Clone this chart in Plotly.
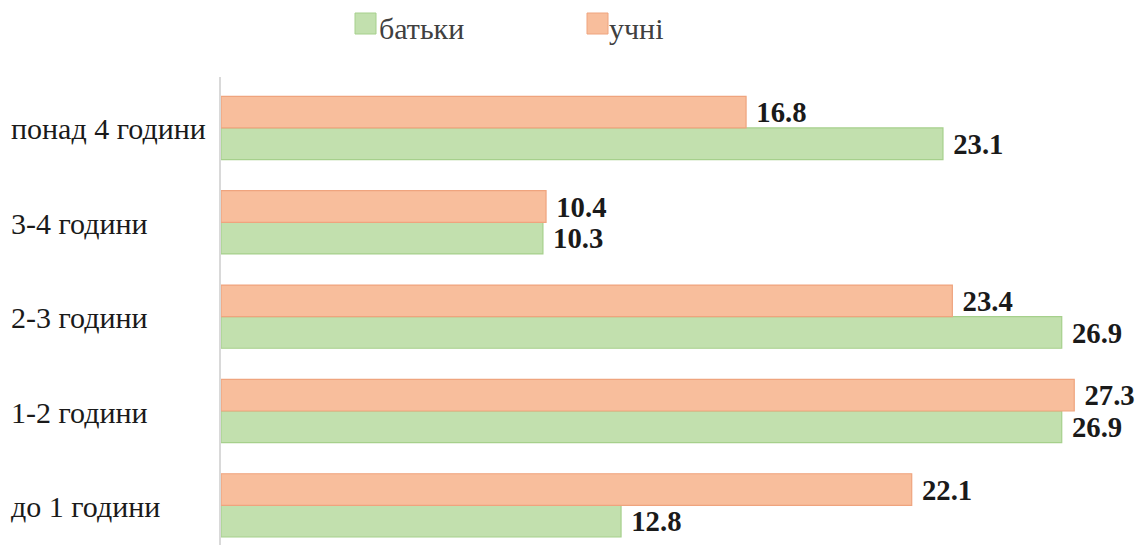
import plotly.graph_objects as go

categories = ["до 1 години", "1-2 години", "2-3 години", "3-4 години", "понад 4 години"]
parents = [12.8, 26.9, 26.9, 10.3, 23.1]
students = [22.1, 27.3, 23.4, 10.4, 16.8]
series_names = ["батьки", "учні"]
colors = ["#C2E0AE", "#F8BE9C"]
edge_colors = ["#A6D08C", "#EFA47E"]

SERIF = "Liberation Serif, Times New Roman, serif"

# page body has an 8px margin; figure is sized so that the plot sits at x 221..1143, y 77..545
W, H = 1135, 537
ml, mr, mt, mb = 213, 0, 69, 0
pw = W - ml - mr
ph = H - mt - mb
OX, OY = 221, 77  # screen position of plot top-left


def px(sx):
    return (sx - OX) / pw


def py(sy):
    return (OY + ph - sy) / ph


fig = go.Figure()
for name, vals, col, ecol in zip(series_names, [parents, students], colors, edge_colors):
    fig.add_trace(go.Bar(
        y=categories, x=vals, orientation="h", name=name,
        marker=dict(color=col, line=dict(color=ecol, width=1.2)),
        texttemplate=" %{x:.1f}", textposition="outside",
        textfont=dict(family=SERIF, size=30, color="#1a1a1a", weight="bold"),
        cliponaxis=False,
    ))

for c in categories:
    fig.add_annotation(
        xref="paper", yref="y", x=px(9), y=c, text=c,
        xanchor="left", yanchor="middle", showarrow=False, yshift=-1,
        font=dict(family=SERIF, size=30, color="#1a1a1a"),
    )

# manual legend
legend_items = [(355, 377), (587, 607)]
for (sx, tx), name, col, ecol in zip(legend_items, series_names, colors, edge_colors):
    fig.add_shape(type="rect", xref="paper", yref="paper",
                  x0=px(sx), x1=px(sx + 21), y0=py(34), y1=py(13),
                  fillcolor=col, line=dict(color=ecol, width=1))
    fig.add_annotation(xref="paper", yref="paper", x=px(tx), y=py(29),
                       text=name, xanchor="left", yanchor="middle", showarrow=False,
                       font=dict(family=SERIF, size=30, color="#404040"))

fig.update_layout(
    width=W, height=H,
    margin=dict(l=ml, r=mr, t=mt, b=mb, pad=0),
    paper_bgcolor="white", plot_bgcolor="white",
    barmode="group", bargap=0.33, bargroupgap=0,
    font=dict(family=SERIF, color="#1a1a1a"),
    xaxis=dict(range=[0, 29.5], showgrid=False, showticklabels=False,
               zeroline=False, showline=False, fixedrange=True),
    yaxis=dict(range=[-0.42, 4.54], showticklabels=False, showgrid=False,
               showline=True, linecolor="#D9D9D9", linewidth=1.5,
               ticks="", fixedrange=True),
    showlegend=False,
)

fig.write_html("out.html")
